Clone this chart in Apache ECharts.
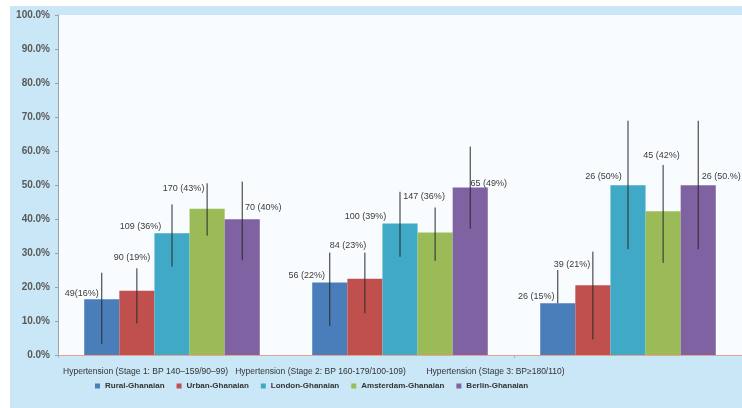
<!DOCTYPE html>
<html>
<head>
<meta charset="utf-8">
<script src="https://cdn.jsdelivr.net/npm/echarts@6/dist/echarts.min.js"></script>
<style>
    html, body { margin: 0; padding: 0; background: #fff; }
    #hyperCharts { position: absolute; left: 10px; top: 6px; width: 732px; height: 402px; }
</style>
</head>
<body>
<div id="hyperCharts"></div>
<script>
    // 数据
    const categories = ['Hypertension (Stage 1: BP 140\u2013159/90\u201399)', 'Hypertension (Stage 2: BP 160-179/100-109)', 'Hypertension (Stage 3: BP\u2265180/110)']
    const groups = ['Rural-Ghanaian', 'Urban-Ghanaian', 'London-Ghanaian', 'Amsterdam-Ghanaian', 'Berlin-Ghanaian']
    const colors = ['#4a7ebb', '#c0504d', '#3fa9c6', '#9bbb59', '#7f62a1']
    const yTicks = [0, 10, 20, 30, 40, 50, 60, 70, 80, 90, 100]

    const rural = [16.4, 21.3, 15.2]
    const urban = [18.9, 22.4, 20.5]
    const london = [35.8, 38.7, 49.9]
    const amsterdam = [43.0, 36.0, 42.3]
    const berlin = [39.9, 49.3, 49.9]
    const values = [rural, urban, london, amsterdam, berlin]

    const ruralCI = [[3.2, 24.2], [8.5, 30.1], [15.2, 25.0]]
    const urbanCI = [[9.3, 25.5], [12.3, 30.1], [4.6, 30.4]]
    const londonCI = [[26.0, 44.3], [28.9, 48.0], [31.1, 68.9]]
    const amsterdamCI = [[35.1, 50.5], [27.7, 43.4], [27.1, 55.9]]
    const berlinCI = [[27.9, 51.0], [37.1, 61.3], [31.1, 68.9]]
    const cis = [ruralCI, urbanCI, londonCI, amsterdamCI, berlinCI]

    const ruralText = ['49(16%)', '56 (22%)', '26 (15%)']
    const urbanText = ['90 (19%)', '84 (23%)', '39 (21%)']
    const londonText = ['109 (36%)', '100 (39%)', '26 (50%)']
    const amsterdamText = ['170 (43%)', '147 (36%)', '45 (42%)']
    const berlinText = ['70 (40%)', '65 (49%)', '26 (50.%)']
    const texts = [ruralText, urbanText, londonText, amsterdamText, berlinText]

    // 标签偏移 (样式)
    const labelOffsets = [
        [[-20, -1.5], [-23, -2.5], [-21.5, -2.5]],
        [[-5, -28.5], [-17, -28.5], [-21, -16.5]],
        [[-31.5, -2.5], [-34.5, -2], [-24.5, -4.5]],
        [[-23.5, -15.5], [-11, -32], [-1.5, -51.5]],
        [[21, -7], [18.5, 0.5], [23, -4.5]]
    ]

    const barCategoryGap = 0.23

    const barSeries = groups.map((name, s) => ({
        name: name,
        type: 'bar',
        barGap: '0%',
        barCategoryGap: (barCategoryGap * 100) + '%',
        itemStyle: { color: colors[s] },
        data: values[s].map((v, i) => ({
            value: v,
            label: { offset: labelOffsets[s][i] }
        })),
        label: {
            show: true,
            position: 'top',
            distance: 0,
            fontFamily: 'Liberation Sans',
            fontSize: 9,
            color: '#3a3a3a',
            formatter: p => texts[s][p.dataIndex]
        },
        z: 2
    }))

    const errData = []
    cis.forEach((ci, s) => ci.forEach((r, i) => errData.push([i, s, r[0], r[1]])))

    const errSeries = {
        type: 'custom',
        name: 'err',
        data: errData,
        z: 5,
        silent: true,
        renderItem: (params, api) => {
            const cat = api.value(0)
            const s = api.value(1)
            const band = api.size([1, 0])[0]
            const bw = band * (1 - barCategoryGap) / groups.length
            const cx = api.coord([cat, 0])[0] + (s - (groups.length - 1) / 2) * bw
            const lo = api.coord([cat, api.value(2)])[1]
            const hi = api.coord([cat, api.value(3)])[1]
            return {
                type: 'line',
                shape: { x1: cx, y1: lo, x2: cx, y2: hi },
                style: { stroke: '#2a2a2a', lineWidth: 1 }
            }
        }
    }

    const option = {
        backgroundColor: '#c9e7f6',
        animation: false,
        legend: {
            data: groups,
            left: 80,
            top: 371,
            icon: 'rect',
            itemWidth: 5,
            itemHeight: 5,
            itemGap: 12,
            textStyle: {
                fontFamily: 'Liberation Sans',
                fontSize: 8,
                fontWeight: 'bold',
                color: '#333'
            }
        },
        grid: [
            { left: 48, right: 0, top: 9, bottom: 53, show: true, backgroundColor: '#f9fcfe', borderWidth: 0 },
            { left: 48, width: 525, top: 9, bottom: 53 }
        ],
        xAxis: [
            {
                type: 'category',
                data: categories,
                gridIndex: 0,
                axisLine: { lineStyle: { color: '#e6a48c' } },
                axisTick: { show: true, length: 3, lineStyle: { color: '#a9b4bb' } },
                axisLabel: { show: false }
            },
            {
                type: 'category',
                data: categories,
                gridIndex: 1,
                axisLine: { show: false },
                axisTick: { show: false },
                axisLabel: {
                    interval: 0,
                    hideOverlap: false,
                    margin: 12,
                    fontFamily: 'Liberation Sans',
                    fontSize: 8.5,
                    color: '#333'
                }
            }
        ],
        yAxis: [
            {
                type: 'value',
                gridIndex: 0,
                min: yTicks[0],
                max: yTicks[yTicks.length - 1],
                interval: 10,
                splitLine: { show: false },
                axisLine: { show: true, lineStyle: { color: '#9aa4aa' } },
                axisTick: { show: true, length: 3, lineStyle: { color: '#9aa4aa' } },
                axisLabel: {
                    margin: 8,
                    fontFamily: 'Liberation Sans',
                    fontSize: 10,
                    fontWeight: 'bold',
                    color: '#595959',
                    formatter: v => v.toFixed(1) + '%'
                }
            },
            {
                type: 'value',
                gridIndex: 1,
                show: false,
                min: 0,
                max: 100
            }
        ],
        series: barSeries.concat([errSeries])
    }

    const chart = echarts.init(document.getElementById('hyperCharts'))
    chart.setOption(option)
    window.addEventListener('resize', () => chart.resize())
</script>
</body>
</html>
